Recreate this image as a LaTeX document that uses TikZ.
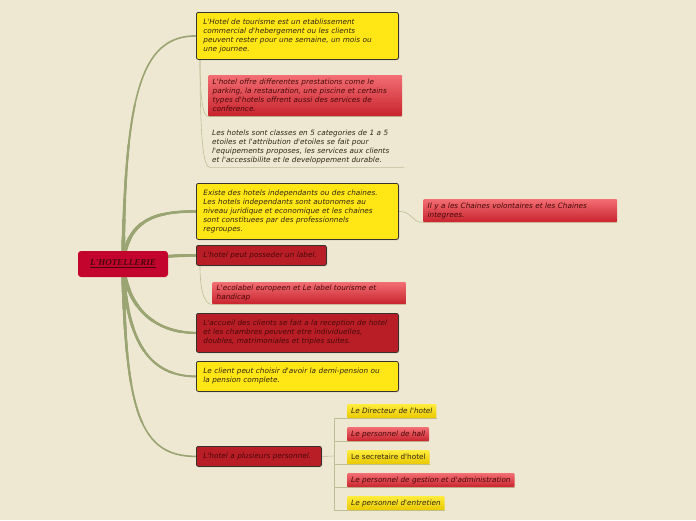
\documentclass[tikz,border=0pt]{standalone}
\usepackage{fontspec}
\newfontfamily\mapfont{DejaVu Sans}
\newfontfamily\rootfont{Liberation Serif}
\usetikzlibrary{calc,shadows}

\definecolor{paper}{RGB}{238,232,210}
\definecolor{topicyellow}{RGB}{255,230,20}
\definecolor{topicred}{RGB}{185,30,38}
\definecolor{rootred}{RGB}{195,5,45}
\definecolor{boxline}{RGB}{55,50,45}
\definecolor{notetop}{RGB}{242,110,115}
\definecolor{notebottom}{RGB}{200,35,45}
\definecolor{chiptop}{RGB}{255,236,60}
\definecolor{chipbottom}{RGB}{232,200,0}
\definecolor{branchgreen}{RGB}{155,165,115}
\definecolor{twiggreen}{RGB}{190,190,150}
\definecolor{inkdark}{RGB}{50,38,20}
\definecolor{inkred}{RGB}{70,8,10}

\pgfdeclarelayer{bg}
\pgfdeclarelayer{edges}
\pgfsetlayers{bg,edges,main}

\begin{document}
\begin{tikzpicture}[
    x=1pt, y=-1pt,
    mapfnt/.style={font=\mapfont\itshape\fontsize{7.3}{9}\selectfont},
    topic/.style={mapfnt, draw=boxline, line width=0.8pt, rounded corners=2pt, anchor=north west,
        align=left, inner xsep=7pt, inner ysep=2pt,
        drop shadow={opacity=0.3, shadow xshift=1pt, shadow yshift=-1pt}},
    yellowtopic/.style={topic, fill=topicyellow, text=inkdark},
    redtopic/.style={topic, fill=topicred, text=inkred},
    note/.style={mapfnt, anchor=north west, align=left, inner xsep=4.5pt, inner ysep=2pt,
        rounded corners=1pt, top color=notetop, bottom color=notebottom, text=inkred},
    plainnote/.style={mapfnt, anchor=north west, align=left, inner xsep=2pt, inner ysep=2pt, text=inkdark},
    chip/.style={font=\mapfont\itshape\fontsize{7.3}{8}\selectfont, anchor=north west, inner xsep=4pt,
        inner ysep=0pt, minimum height=14pt, rounded corners=1pt},
    yellowchip/.style={chip, top color=chiptop, bottom color=chipbottom, text=inkdark},
    redchip/.style={chip, top color=notetop, bottom color=notebottom, text=inkred},
    branch/.style={draw=branchgreen, line cap=round},
    twig/.style={draw=twiggreen, line width=0.6pt}
]
\useasboundingbox (0,0) rectangle (696,520);
\begin{pgfonlayer}{bg}
\fill[paper] (0,0) rectangle (696,520);
\end{pgfonlayer}

% central topic
\node[fill=rootred, rounded corners=3pt, minimum width=90pt, minimum height=26pt, text=inkred,
      font=\rootfont\bfseries\itshape\fontsize{9}{10}\selectfont] (root) at (123,264) {\underline{L'HOTELLERIE}};

% main topics
\node[yellowtopic, text width=188pt, minimum height=47pt] (tourisme) at (196,12)
  {L'Hotel de tourisme est un etablissement\\commercial d'hebergement ou les clients\\peuvent rester pour une semaine, un mois ou\\une journee.};
\node[yellowtopic, text width=188pt, minimum height=56pt] (chaines) at (196,183)
  {Existe des hotels independants ou des chaines.\\Les hotels independants sont autonomes au\\niveau juridique et economique et les chaines\\sont constituees par des professionnels\\regroupes.};
\node[redtopic, text width=116pt, minimum height=20pt] (label) at (196,245)
  {L'hotel peut posseder un label.};
\node[redtopic, text width=188pt, minimum height=39pt] (accueil) at (196,313)
  {L'accueil des clients se fait a la reception de hotel\\et les chambres peuvent etre individuelles,\\doubles, matrimoniales et triples suites.};
\node[yellowtopic, text width=188pt, minimum height=30pt] (pension) at (196,361)
  {Le client peut choisir d'avoir la demi-pension ou\\la pension complete.};
\node[redtopic, text width=111pt, minimum height=20pt] (personnel) at (196,446)
  {L'hotel a plusieurs personnel.};

% sub topics
\node[note, text width=185pt, minimum height=41pt] (prestations) at (208,75)
  {L'hotel offre differentes prestations come le\\parking, la restauration, une piscine et certains\\types d'hotels offrent aussi des services de\\conference.};
\node[plainnote, text width=190pt, minimum height=40pt] (categories) at (210,127)
  {Les hotels sont classes en 5 categories de 1 a 5\\etoiles et l'attribution d'etoiles se fait pour\\l'equipements proposes, les services aux clients\\et l'accessibilite et le developpement durable.};
\node[note, text width=185pt, minimum height=23pt] (volontaires) at (423,199)
  {Il y a les Chaines volontaires et les Chaines\\integrees.};
\node[note, text width=185pt, minimum height=22pt] (ecolabel) at (212,282)
  {L'ecolabel europeen et Le label tourisme et\\handicap};

% staff
\node[yellowchip] (directeur) at (347,404) {Le Directeur de l'hotel};
\node[redchip] (hall) at (347,427) {Le personnel de hall};
\node[yellowchip, font=\mapfont\fontsize{7.3}{8}\selectfont] (secretaire) at (347,450) {Le secretaire d'hotel};
\node[redchip] (gestion) at (347,473) {Le personnel de gestion et d'administration};
\node[yellowchip] (entretien) at (347,496) {Le personnel d'entretien};
\coordinate (hub) at (334,456);

\begin{pgfonlayer}{edges}
% tapered main branches: thicker near the centre
\foreach \rad/\wid in {300/1.6, 160/1.9, 120/2.2, 90/2.5, 65/2.9, 45/3.3, 28/3.8} {
  \begin{scope}
  \clip (root.center) circle (\rad);
  \draw[branch, line width=\wid pt] (root.center) .. controls +(2,-170) and +(-55,0) .. (tourisme.west);
  \draw[branch, line width=\wid pt] (root.center) .. controls +(4,-45) and +(-40,0) .. (chaines.west);
  \draw[branch, line width=\wid pt] (root.center) .. controls +(20,-6) and +(-30,0) .. (label.west);
  \draw[branch, line width=\wid pt] (root.center) .. controls +(4,45) and +(-40,0) .. (accueil.west);
  \draw[branch, line width=\wid pt] (root.center) .. controls +(3,80) and +(-45,0) .. (pension.west);
  \draw[branch, line width=\wid pt] (root.center) .. controls +(2,150) and +(-55,0) .. (personnel.west);
  \end{scope}
}

\draw[twig] ($(tourisme.south west)+(4,0)$) .. controls +(0,45) and +(-4,0) .. (prestations.south west);
\draw[twig] (prestations.south west) -- (prestations.south east);
\draw[twig] ($(tourisme.south west)+(4,0)$) .. controls +(0,95) and +(-5,0) .. (categories.south west)
  -- (categories.south east);
\draw[twig] (chaines.east) .. controls +(14,0) and +(-12,0) .. (volontaires.south west)
  -- (volontaires.south east);
\draw[twig] ($(label.south west)+(4,0)$) .. controls +(0,32) and +(-5,0) .. (ecolabel.south west)
  -- (ecolabel.south east);

\draw[twig] (personnel.east) -- (hub);
\draw[twig] (hub |- directeur.south) -- (hub |- entretien.south);
\foreach \staff in {directeur,hall,secretaire,gestion,entretien}
  \draw[twig] (hub |- \staff.south) -- (\staff.south east);
\end{pgfonlayer}
\end{tikzpicture}
\end{document}
